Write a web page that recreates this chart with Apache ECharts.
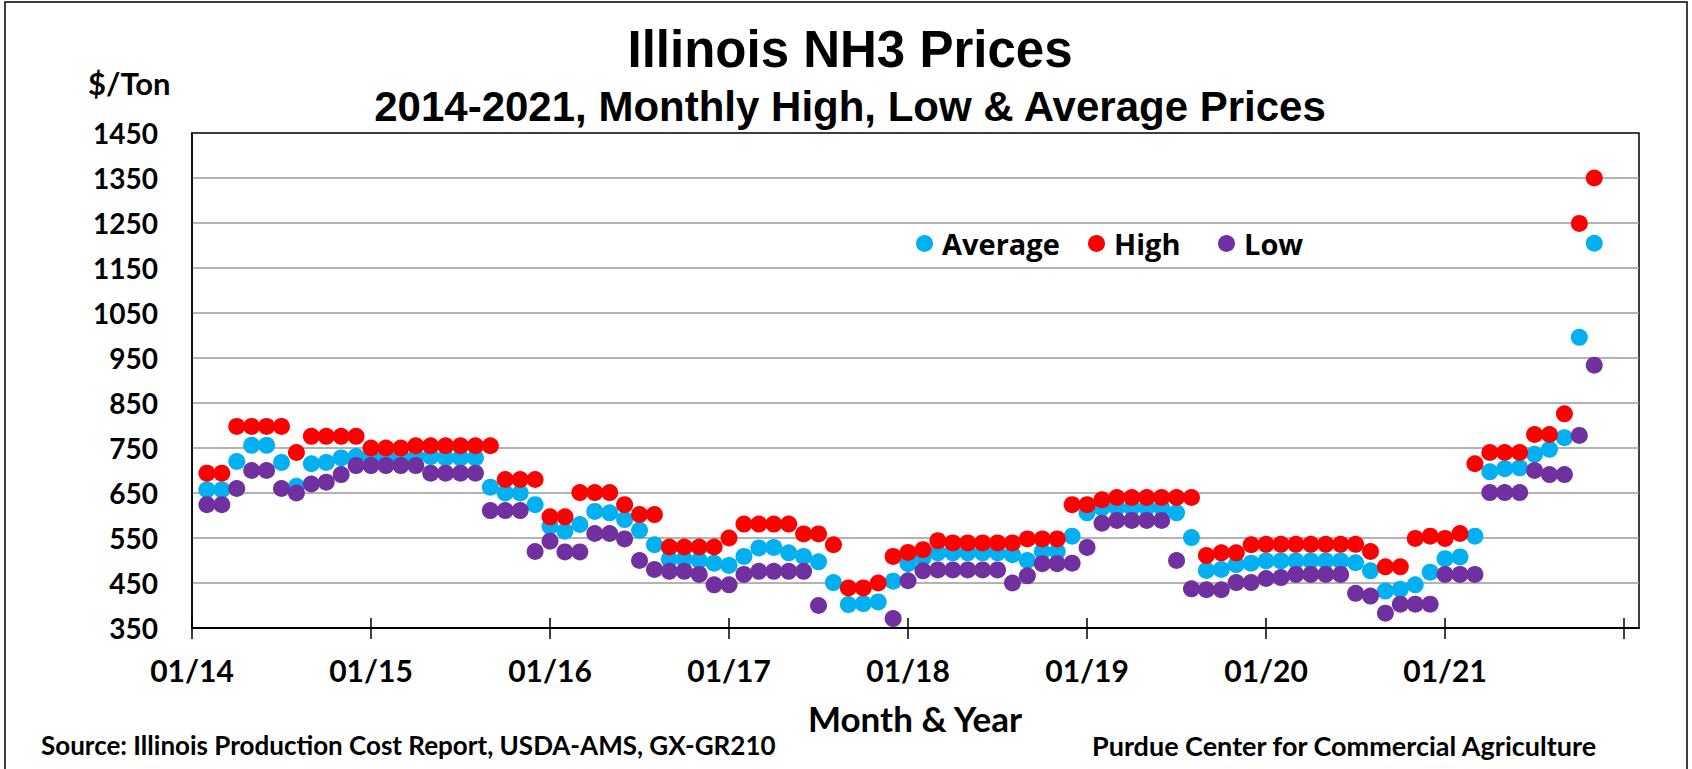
<!DOCTYPE html>
<html>
<head>
<meta charset="utf-8">
<title>Illinois NH3 Prices</title>
<script src="https://cdn.jsdelivr.net/npm/echarts@6/dist/echarts.min.js"></script>
<style>
  html, body { margin: 0; padding: 0; background: #fff; }
  #chart { width: 1692px; height: 769px; }
</style>
</head>
<body>
<div id="chart"></div>
<script>
// Monthly observations, Feb 2014 through Nov 2021 (MM/YY)
const months = [];
for (let y = 14; y <= 21; y++) {
  for (let m = 1; m <= 12; m++) {
    if ((y === 14 && m < 2) || (y === 21 && m > 11)) continue;
    months.push(String(m).padStart(2, '0') + '/' + y);
  }
}

// $/ton, one value per month
const average = [
  657, 657, 720, 756, 756, 718, 665, 715, 718, 728, 731,
  730, 730, 730, 730, 731, 728, 728, 728, 663, 650, 650, 624,
  576, 565, 580, 609, 606, 591, 567, 535, 503, 503, 500, 494,
  489, 509, 528, 529, 517, 509, 497, 451, 402, 404, 408, 454,
  493, 506, 517, 517, 517, 517, 517, 513, 500, 520, 520, 554,
  606, 617, 617, 617, 617, 617, 606, 551, 478, 480, 491, 494,
  499, 499, 499, 499, 499, 499, 495, 477, 432, 436, 446, 474,
  504, 508, 554, 697, 704, 706, 736, 747, 773, 996, 1205
];
const high = [
  694, 694, 798, 798, 798, 798, 740, 776, 776, 776, 776,
  750, 750, 750, 755, 755, 755, 755, 755, 755, 680, 680, 680,
  597, 597, 651, 651, 651, 624, 602, 602, 530, 530, 530, 530,
  550, 581, 581, 581, 581, 559, 559, 535, 439, 439, 450, 509,
  518, 524, 544, 539, 539, 539, 539, 539, 548, 548, 548, 624,
  624, 635, 640, 640, 640, 640, 640, 640, 511, 517, 517, 535,
  536, 536, 536, 536, 536, 536, 536, 520, 486, 486, 549, 554,
  549, 560, 715, 740, 740, 740, 780, 780, 826, 1249, 1350
];
const low = [
  624, 624, 660, 700, 700, 660, 650, 670, 674, 691, 711,
  711, 711, 711, 711, 694, 694, 694, 694, 611, 611, 611, 520,
  543, 519, 519, 560, 560, 548, 500, 480, 476, 476, 469, 446,
  446, 469, 476, 476, 476, 476, 400, null, null, null, null, 371,
  455, 477, 479, 479, 479, 479, 479, 450, 466, 493, 493, 494,
  529, 583, 589, 589, 589, 589, 500, 437, 435, 435, 451, 451,
  460, 462, 469, 469, 469, 469, 427, 421, 383, 403, 403, 403,
  469, 469, 469, 651, 651, 651, 700, 691, 691, 778, 934
];

// Axis ticks
const tickMonths = ['01/14', '01/15', '01/16', '01/17', '01/18', '01/19', '01/20', '01/21', '01/22'];
const tickLabels = ['01/14', '01/15', '01/16', '01/17', '01/18', '01/19', '01/20', '01/21'];
const axisEnd = '02/22';
const priceTicks = [350, 450, 550, 650, 750, 850, 950, 1050, 1150, 1250, 1350, 1450];
const priceGrid = [350, 450, 550, 650, 750, 850, 950, 1050, 1150, 1250, 1350];

// month offset from Jan 2014
const xPos = s => {
  const [m, y] = s.split('/').map(Number);
  return (y - 14) * 12 + (m - 1);
};
const labelAt = {};
tickLabels.forEach(t => { labelAt[xPos(t)] = t; });

const toPoints = arr => arr.map((v, i) => [xPos(months[i]), v]);

const COLORS = { avg: '#00B0F0', high: '#FF0000', low: '#7030A0' };
const LABEL_FONT = 'Lato';

const chart = echarts.init(document.getElementById('chart'), null, { renderer: 'svg' });

const legendBase = {
  top: 229,
  padding: 0,
  icon: 'circle',
  itemWidth: 17,
  itemHeight: 17,
  selectedMode: false,
  textStyle: { fontFamily: 'Open Sans', fontWeight: 'bold', fontSize: 29, color: '#000', padding: [0, 0, 0, 4] }
};

chart.setOption({
  animation: false,
  backgroundColor: '#fff',
  grid: {
    left: 192, right: 53, top: 133, bottom: 141,
    show: true, borderColor: '#000', borderWidth: 1.5, backgroundColor: 'transparent'
  },
  legend: [
    Object.assign({}, legendBase, { left: 916, data: ['Average'] }),
    Object.assign({}, legendBase, { left: 1088, data: ['High'] }),
    Object.assign({}, legendBase, { left: 1218, data: ['Low'] })
  ],
  xAxis: [
    {
      type: 'value', min: 0, max: xPos(axisEnd), position: 'bottom',
      axisLine: { show: true, onZero: false, lineStyle: { color: '#000', width: 2 } },
      axisTick: { show: true, customValues: tickMonths.map(xPos), length: 11, lineStyle: { color: '#000', width: 1.5 } },
      axisLabel: {
        customValues: tickLabels.map(xPos),
        formatter: v => labelAt[v] || '',
        margin: 27, fontFamily: LABEL_FONT, fontWeight: 'bold', fontSize: 30, color: '#000'
      },
      splitLine: { show: false }
    },
    {
      // upper half of the crossing tick marks
      type: 'value', min: 0, max: xPos(axisEnd), position: 'bottom',
      axisLine: { show: false },
      axisTick: { show: true, inside: true, customValues: tickMonths.map(xPos), length: 10, lineStyle: { color: '#000', width: 1.5 } },
      axisLabel: { show: false },
      splitLine: { show: false }
    }
  ],
  yAxis: {
    type: 'value', min: 350, max: 1450,
    axisLine: { show: true, lineStyle: { color: '#000', width: 1.5 } },
    axisTick: { show: false, customValues: priceGrid },
    axisLabel: {
      customValues: priceTicks,
      formatter: v => String(v),
      margin: 34, fontFamily: LABEL_FONT, fontWeight: 'bold', fontSize: 28, color: '#000'
    },
    splitLine: { show: true, lineStyle: { color: '#9a9a9a', width: 1.5 } }
  },
  series: [
    { name: 'Average', type: 'scatter', symbolSize: 17, itemStyle: { color: COLORS.avg, opacity: 1 }, data: toPoints(average) },
    { name: 'High', type: 'scatter', symbolSize: 17, itemStyle: { color: COLORS.high, opacity: 1 }, data: toPoints(high) },
    { name: 'Low', type: 'scatter', symbolSize: 17, itemStyle: { color: COLORS.low, opacity: 1 }, data: toPoints(low).filter(p => p[1] !== null) }
  ],
  graphic: [
    { type: 'rect', shape: { x: 5, y: 2, width: 1682, height: 800 }, style: { fill: 'none', stroke: '#000', lineWidth: 1.5 }, silent: true },
    { type: 'text', x: 850, y: 49, style: { text: 'Illinois NH3 Prices', font: 'bold 51px "Liberation Sans", Arial, sans-serif', fill: '#000', textAlign: 'center', textVerticalAlign: 'middle' } },
    { type: 'text', x: 850, y: 106, style: { text: '2014-2021, Monthly High, Low & Average Prices', font: 'bold 42px "Liberation Sans", Arial, sans-serif', fill: '#000', textAlign: 'center', textVerticalAlign: 'middle' } },
    { type: 'text', x: 88, y: 83, style: { text: '$/Ton', font: 'bold 31px Lato, sans-serif', fill: '#000', textAlign: 'left', textVerticalAlign: 'middle' } },
    { type: 'text', x: 915, y: 718, style: { text: 'Month & Year', font: 'bold 35px Lato, sans-serif', fill: '#000', textAlign: 'center', textVerticalAlign: 'middle' } },
    { type: 'text', x: 41, y: 745, style: { text: 'Source: Illinois Production Cost Report, USDA-AMS, GX-GR210', font: 'bold 26px Lato, sans-serif', fill: '#000', textAlign: 'left', textVerticalAlign: 'middle' } },
    { type: 'text', x: 1092, y: 745, style: { text: 'Purdue Center for Commercial Agriculture', font: 'bold 27px Lato, sans-serif', fill: '#000', textAlign: 'left', textVerticalAlign: 'middle' } }
  ]
});
</script>
</body>
</html>
